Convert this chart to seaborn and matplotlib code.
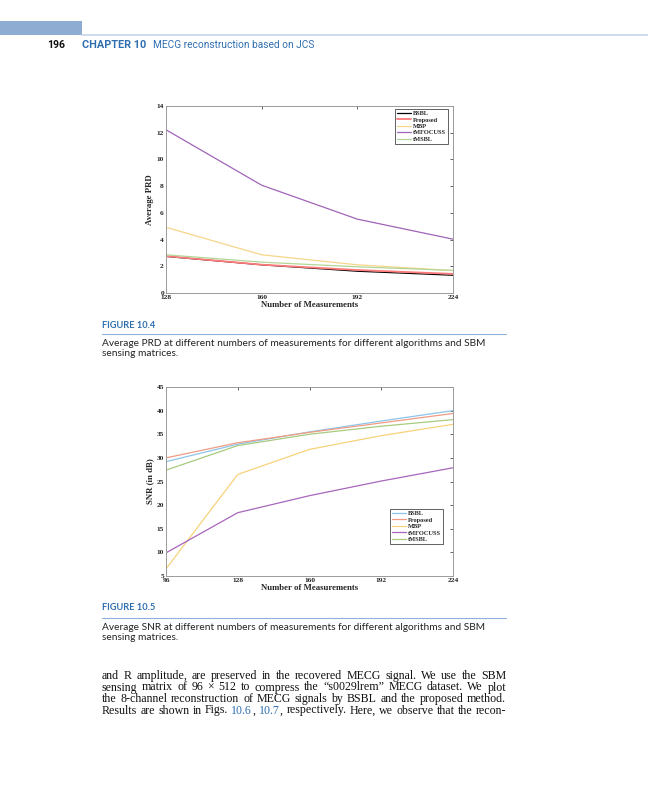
import numpy as np
import pandas as pd
import matplotlib
matplotlib.use("Agg")
import matplotlib.pyplot as plt
import seaborn as sns

# ---------------- data ----------------
algorithms = ["BSBL", "Proposed", "MBP", "tMFOCUSS", "tMSBL"]

m_prd = [128, 160, 192, 224]
prd_bsbl = [2.74, 2.11, 1.63, 1.33]
prd_proposed = [2.76, 2.12, 1.72, 1.43]
prd_mbp = [4.92, 2.86, 2.11, 1.68]
prd_tmfocuss = [12.22, 8.07, 5.53, 4.03]
prd_tmsbl = [2.86, 2.31, 1.96, 1.69]

m_snr = [96, 128, 160, 192, 224]
snr_bsbl = [29.2, 32.9, 35.5, 37.8, 40.0]
snr_proposed = [30.0, 33.2, 35.4, 37.4, 39.4]
snr_mbp = [6.5, 26.5, 31.8, 34.7, 37.1]
snr_tmfocuss = [9.9, 18.4, 22.0, 25.1, 27.9]
snr_tmsbl = [27.4, 32.6, 35.0, 36.7, 38.1]

prd_ticks = [0, 2, 4, 6, 8, 10, 12, 14]
snr_ticks = [5, 10, 15, 20, 25, 30, 35, 40, 45]

header_num = "196"
header_chapter = "CHAPTER 10"
header_title = "MECG reconstruction based on JCS"
fig1_label = "FIGURE 10.4"
fig1_caption = ["Average PRD at different numbers of measurements for different algorithms and SBM",
                "sensing matrices."]
fig2_label = "FIGURE 10.5"
fig2_caption = ["Average SNR at different numbers of measurements for different algorithms and SBM",
                "sensing matrices."]
BLUE = "#2f6fb0"
body_lines = [
    "and R amplitude, are preserved in the recovered MECG signal. We use the SBM",
    "sensing matrix of 96 \u00d7 512 to compress the \u201cs0029lrem\u201d MECG dataset. We plot",
    "the 8-channel reconstruction of MECG signals by BSBL and the proposed method.",
    "Results are shown in Figs. |10.6|, |10.7|, respectively. Here, we observe that the recon-",
]

prd_df = pd.DataFrame({
    "m": m_prd * 5,
    "val": prd_bsbl + prd_proposed + prd_mbp + prd_tmfocuss + prd_tmsbl,
    "alg": sum([[a] * len(m_prd) for a in algorithms], []),
})
snr_df = pd.DataFrame({
    "m": m_snr * 5,
    "val": snr_bsbl + snr_proposed + snr_mbp + snr_tmfocuss + snr_tmsbl,
    "alg": sum([[a] * len(m_snr) for a in algorithms], []),
})

prd_colors = {"BSBL": "#000000", "Proposed": "#ff7a7a", "MBP": "#f7d68a",
              "tMFOCUSS": "#a064b8", "tMSBL": "#b3d597"}
snr_colors = {"BSBL": "#8cc5ea", "Proposed": "#f09c84", "MBP": "#f7d27a",
              "tMFOCUSS": "#a866bc", "tMSBL": "#a8cb80"}

# ---------------- figure ----------------
sns.set_style("white")
W, H = 648, 800
fig = plt.figure(figsize=(W / 100, H / 100), dpi=100)
renderer = fig.canvas.get_renderer()

SERIF = ["Liberation Serif", "DejaVu Serif"]
SANS = ["Lato", "DejaVu Sans"]


def fx(x):
    return x / W


def fy(y):
    return 1 - y / H


def put(x, y, s, size, width=None, **kw):
    t = fig.text(fx(x), fy(y), s, fontsize=size, va="center", ha="left", **kw)
    if width is not None:
        bw = t.get_window_extent(renderer).width
        t.set_fontsize(size * width / bw)
    return t


def style_axes(ax, xt, yt, xlabel, ylabel):
    ax.set_xticks(xt)
    ax.set_yticks(yt)
    ax.set_xlim(xt[0], xt[-1])
    ax.set_ylim(yt[0], yt[-1])
    ax.tick_params(direction="in", top=True, right=True, length=2.5, width=0.5,
                   labelsize=5.3, pad=1.5, colors="#222222")
    for lab in ax.get_xticklabels() + ax.get_yticklabels():
        lab.set_family(SERIF)
        lab.set_fontweight("bold")
    for sp in ax.spines.values():
        sp.set_linewidth(0.7)
        sp.set_color("#9a9a9a")
        sp.set_visible(True)
    ax.set_xlabel(xlabel, family=SERIF, fontweight="bold", fontsize=6.3, labelpad=1)
    ax.set_ylabel(ylabel, family=SERIF, fontweight="bold", fontsize=6.3, labelpad=1.5)
    ax.grid(False)


def make_legend(ax, loc, anchor):
    leg = ax.legend(ax.get_lines()[:5], algorithms, loc=loc,
                    bbox_to_anchor=anchor, fancybox=False, edgecolor="#222222",
                    framealpha=1, prop={"family": SERIF, "weight": "bold", "size": 4.6},
                    borderpad=0.3, labelspacing=0.15, handlelength=2.2, handletextpad=0.3,
                    borderaxespad=0)
    leg.get_frame().set_linewidth(0.5)
    return leg


# chart 1
ax1 = fig.add_axes([fx(166), fy(293), (453 - 166) / W, (293 - 106) / H])
sns.lineplot(data=prd_df, x="m", y="val", hue="alg", hue_order=algorithms,
             palette=prd_colors, ax=ax1, linewidth=0.9, legend=False)
ax1.get_lines()[1].set_linewidth(1.3)
style_axes(ax1, m_prd, prd_ticks, "Number of Measurements", "Average PRD")
make_legend(ax1, "upper right", (0.983, 0.985))

# chart 2
ax2 = fig.add_axes([fx(166), fy(576), (453 - 166) / W, (576 - 387) / H])
sns.lineplot(data=snr_df, x="m", y="val", hue="alg", hue_order=algorithms,
             palette=snr_colors, ax=ax2, linewidth=0.9, legend=False)
style_axes(ax2, m_snr, snr_ticks, "Number of Measurements", "SNR (in dB)")
make_legend(ax2, "lower right", (0.965, 0.17))

# ---------------- page decorations ----------------
fig.patches.append(plt.Rectangle((0, fy(35)), fx(82), 14 / H, transform=fig.transFigure,
                                 facecolor="#8eabd2", edgecolor="none"))
fig.add_artist(plt.Line2D([fx(82), 1], [fy(34.5), fy(34.5)], transform=fig.transFigure,
                          color="#c3d4ea", linewidth=1.2))
put(47, 45, header_num, 10, width=18, family=["Roboto", "DejaVu Sans"], fontweight="bold",
    color="#111111")
put(82, 45, header_chapter, 10, width=64, family=["Roboto", "DejaVu Sans"], fontweight="bold",
    color=BLUE)
put(153, 45, header_title, 10, width=160, family=["Roboto", "DejaVu Sans"], color=BLUE)

for label, cap, ylab, yline in [(fig1_label, fig1_caption, 326, 334),
                                (fig2_label, fig2_caption, 608, 618)]:
    put(102, ylab, label, 8, width=53, family=SANS, fontweight="bold", color=BLUE)
    fig.add_artist(plt.Line2D([fx(102), fx(506)], [fy(yline), fy(yline)],
                              transform=fig.transFigure, color="#8fb0d8", linewidth=0.8))
    t = put(102, yline + 9.5, cap[0], 7.5, width=382, family=SANS, color="#222222")
    put(102, yline + 19.5, cap[1], t.get_fontsize(), family=SANS, color="#222222")

# justified body text: one size, chosen so the longest line fits the measure
x0, x1 = 102, 506
sizes = []
for line in body_lines:
    probe = fig.text(0, 0, line.replace("|", ""), fontsize=9, family=SERIF)
    sizes.append(9 * (x1 - x0 - 4) / probe.get_window_extent(renderer).width)
    probe.remove()
body_size = min(sizes)

body_baseline = [679, 690.5, 702, 713.5]
for line, yy in zip(body_lines, body_baseline):
    words = line.split(" ")
    items = []
    for w in words:
        segs = []
        parts = w.split("|")
        for i, p in enumerate(parts):
            if p:
                segs.append((p, BLUE if i % 2 == 1 else "#111111"))
        items.append(segs)
    texts = []
    widths = []
    for segs in items:
        ts = []
        tw = 0
        for s, c in segs:
            t = fig.text(0, fy(yy), s, fontsize=body_size, family=SERIF, color=c,
                         va="baseline", ha="left")
            bw = t.get_window_extent(renderer).width
            ts.append((t, bw))
            tw += bw + (0.4 if len(segs) > 1 else 0)
        texts.append(ts)
        widths.append(tw)
    gap = (x1 - x0 - sum(widths)) / (len(items) - 1)
    x = x0
    for ts, tw in zip(texts, widths):
        xx = x
        for t, bw in ts:
            t.set_x(fx(xx))
            xx += bw + 0.4
        x += tw + gap

fig.savefig("out.png", dpi=100)
